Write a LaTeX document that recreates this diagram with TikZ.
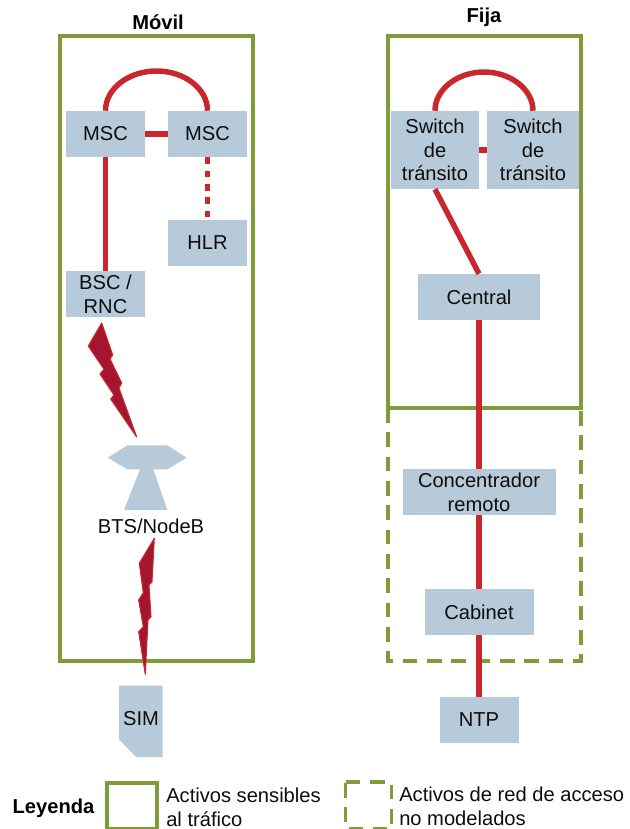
\documentclass[tikz,border=0pt]{standalone}
\usepackage{fontspec}
\setmainfont{Liberation Sans}
\definecolor{framegreen}{HTML}{7F9C3A}
\definecolor{boxblue}{HTML}{B7CAD9}
\definecolor{linkred}{HTML}{C9272B}
\definecolor{boltred}{HTML}{A4152F}
\tikzset{
  base/.style={font=\fontsize{15.1}{17.8}\selectfont,text=black!95},
  bluebox/.style={base,fill=boxblue,inner sep=0pt,align=center,minimum width=#1*0.75pt},
  tall/.style={minimum height=#1*0.75pt},
  label/.style={base,inner sep=0pt,align=left,anchor=west},
  heading/.style={font=\fontsize{15.1}{17.8}\selectfont\bfseries,inner sep=0pt},
  frame/.style={draw=framegreen,line width=2.5pt},
  dashframe/.style={draw=framegreen,line width=2.5pt,dash pattern=on 10.9pt off 7.35pt},
  link/.style={draw=linkred,line width=4.1pt},
  dotlink/.style={draw=linkred,line width=4.1pt,dash pattern=on 5pt off 5pt},
  bolt/.style={fill=boltred,draw=linkred,line width=0.8pt,line join=round},
  equip/.style={fill=boxblue},
}
\begin{document}
\begin{tikzpicture}[x=0.75pt,y=-0.75pt]
\useasboundingbox (0,0) rectangle (629,829);
% frames
\draw[frame] (60,36) rectangle (253,661);
\draw[dashframe] (388,408) -- (388,661) -- (581,661) -- (581,408);
\draw[frame] (388,36) rectangle (581,408);
% nodes
\node[bluebox=79,tall=46] (msc1) at (105.5,134) {MSC};
\node[bluebox=79,tall=46] (msc2) at (207.5,134) {MSC};
\node[bluebox=79,tall=46] (hlr) at (207.5,243) {HLR};
\node[bluebox=79,tall=46] (bsc) at (105.5,294) {BSC /\\RNC};
\node[bluebox=88,tall=78] (sw1) at (435,150) {Switch\\de\\tránsito};
\node[bluebox=92,tall=78] (sw2) at (533,150) {Switch\\de\\tránsito};
\node[bluebox=122,tall=46] (central) at (479,297) {Central};
\node[bluebox=153,tall=46] (conc) at (479,492) {Concentrador\\remoto};
\node[bluebox=109,tall=46] (cabinet) at (479,612) {Cabinet};
\node[bluebox=79,tall=46] (ntp) at (479,720) {NTP};
% connectors
\coordinate (arcm) at (156.5,71);
\coordinate (arcf) at (484,72);
\draw[link] (msc1.north) .. controls +(0,-22) and +(-28,0) .. (arcm) .. controls +(28,0) and +(0,-22) .. (msc2.north);
\draw[link] (msc1.east) -- (msc2.west);
\draw[dotlink] (msc2.south) -- (hlr.north);
\draw[link] (msc1.south) -- (bsc.north);
\draw[link] (sw1.north) .. controls +(0,-21) and +(-27,0) .. (arcf) .. controls +(27,0) and +(0,-21) .. (sw2.north);
\draw[link] (sw1.east) -- (sw2.west);
\draw[link] (sw1.south) -- (central.north);
\draw[link] (central.south) -- (conc.north);
\draw[link] (conc.south) -- (cabinet.north);
\draw[link] (cabinet.south) -- (ntp.north);
% lightning bolts
\draw[bolt] (101.7,323) -- (112.7,355) -- (110,359) -- (121.7,383) -- (119,388) -- (136.7,437) -- (110.7,399) -- (114,395) -- (100,374) -- (104,369.3) -- (88.3,346) -- cycle;
\draw[bolt] (154.3,538.3) -- (152,581.7) -- (149,585) -- (151,616.7) -- (148,620) -- (145.3,674.3) -- (138.7,631.7) -- (143.3,626.7) -- (138.7,600) -- (143.3,592.7) -- (139.3,563.3) -- cycle;
% antenna and SIM
\fill[equip] (127.3,445.3) -- (167.3,445.3) -- (186.7,457.7) -- (167.3,469.3) -- (153.3,469.3) -- (167.3,510) -- (124,510) -- (140,469.3) -- (127.3,469.3) -- (107.7,457.7) -- cycle;
\node[base,inner sep=0pt] (bts) at (151,526) {BTS/NodeB};
\fill[equip] (119,685.7) -- (162.7,685.7) -- (162.7,757) -- (136,757) -- (119,739.3) -- cycle;
\node[base,inner sep=0pt] (sim) at (141,719) {SIM};
% headings
\node[heading] (movil) at (158,22) {Móvil};
\node[heading] (fija) at (484,17) {Fija};
% legend
\node[heading] (ley) at (53.5,808) {Leyenda};
\draw[frame] (107,783) rectangle (157,829);
\node[label] (leg1) at (166,807.5) {Activos sensibles\\al tráfico};
\draw[dashframe] (345.7,782) -- (391.7,782) -- (391.7,829) -- (345.7,829) -- cycle;
\node[label] (leg2) at (399,806.5) {Activos de red de acceso\\no modelados};
\end{tikzpicture}
\end{document}
